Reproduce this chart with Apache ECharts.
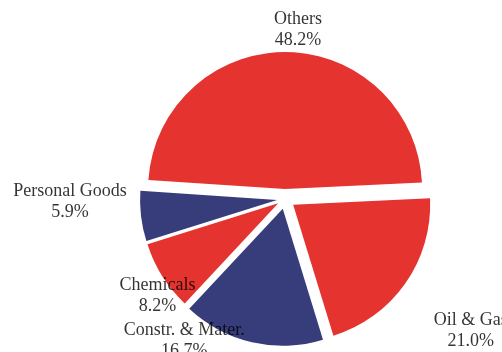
<!DOCTYPE html>
<html>
<head>
<meta charset="utf-8">
<script src="https://cdn.jsdelivr.net/npm/echarts@6/dist/echarts.min.js"></script>
<style>
  html, body { margin: 0; padding: 0; background: #ffffff; }
  #chart { width: 502px; height: 352px; }
</style>
</head>
<body>
<div id="chart"></div>
<script>
// Sector breakdown, share of total (%)
const categories = ['Others', 'Oil & Gas', 'Constr. & Mater.', 'Chemicals', 'Personal Goods'];
const shares = [48.2, 21.0, 16.7, 8.2, 5.9];

// Styling per slice
const sliceColors = ['#e5332f', '#e5332f', '#363d7a', '#e5332f', '#363d7a'];
const sliceOffsets = [10, 10, 10, 8, 8];          // explode distance, px
// Label anchor per slice: polar angle (deg, counter-clockwise from 3 o'clock)
// and distance (px) from the pie centre
const labelAngles = [85.6, 324.6, 234.6, 217.2, 180.8];
const labelDistances = [170, 228, 174, 160, 215];

const CENTER = [285, 199];
const RADIUS = 137;
const LABEL_RING = 260;   // extent of the polar frame used to place the labels

const chart = echarts.init(document.getElementById('chart'), null, { renderer: 'canvas' });

// One pie series per slice so each slice can be pulled out by its own distance;
// the other slices in each series stay invisible and only hold the angles.
const pieSeries = categories.map(function (name, i) {
  return {
    type: 'pie',
    center: CENTER,
    radius: [0, RADIUS],
    startAngle: 176.2,
    clockwise: true,
    silent: true,
    animation: false,
    selectedMode: 'multiple',
    selectedOffset: sliceOffsets[i],
    emphasis: { disabled: true },
    label: { show: false },
    labelLine: { show: false },
    data: shares.map(function (v, j) {
      const own = j === i;
      return {
        name: categories[j],
        value: v,
        selected: own,
        itemStyle: own ? { color: sliceColors[j] } : { color: 'rgba(0,0,0,0)' }
      };
    })
  };
});

// Category labels, placed in a polar frame sharing the pie centre
const labelSeries = {
  type: 'scatter',
  coordinateSystem: 'polar',
  silent: true,
  animation: false,
  symbolSize: 1,
  itemStyle: { color: 'rgba(0,0,0,0)' },
  label: {
    show: true,
    position: 'inside',
    align: 'center',
    verticalAlign: 'middle',
    fontFamily: 'Liberation Serif',
    fontSize: 18,
    lineHeight: 21,
    color: '#000000',
    textBorderWidth: 0,
    formatter: function (p) {
      return categories[p.dataIndex] + '\n' + shares[p.dataIndex].toFixed(1) + '%';
    }
  },
  data: categories.map(function (name, i) {
    return [labelDistances[i], labelAngles[i]];
  })
};

chart.setOption({
  backgroundColor: '#ffffff',
  polar: { center: CENTER, radius: LABEL_RING },
  angleAxis: { type: 'value', min: 0, max: 360, startAngle: 0, clockwise: false, show: false },
  radiusAxis: { type: 'value', min: 0, max: LABEL_RING, show: false },
  series: pieSeries.concat([labelSeries])
});
</script>
</body>
</html>
